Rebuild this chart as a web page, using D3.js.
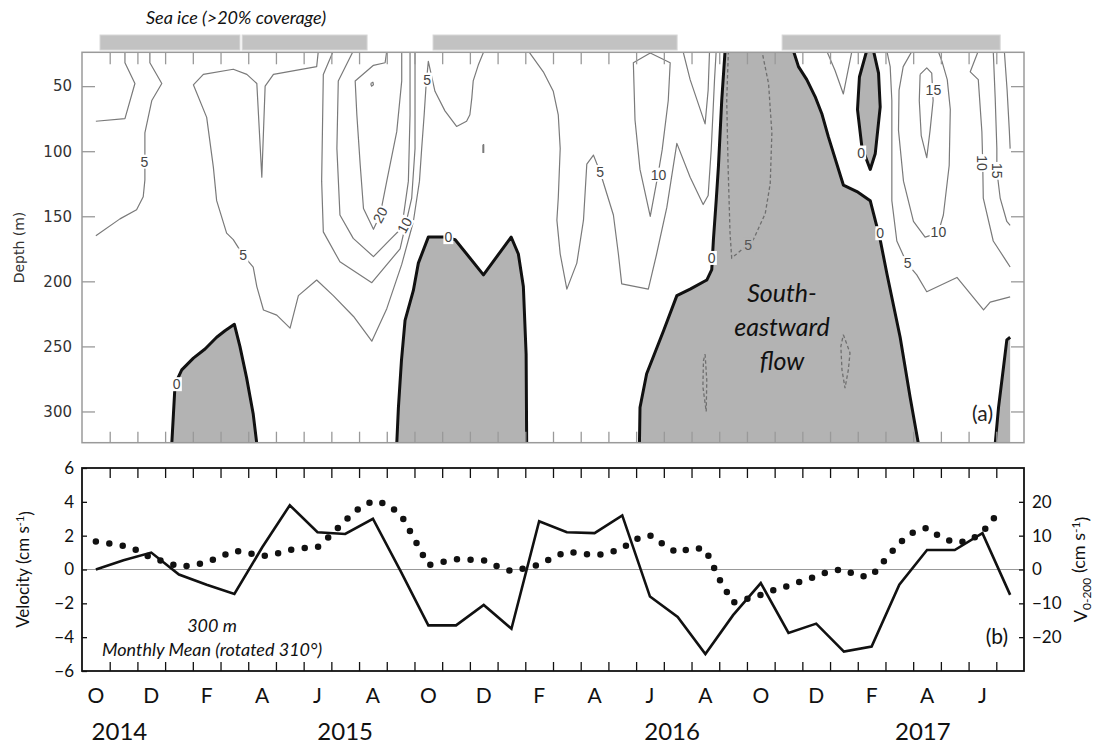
<!DOCTYPE html>
<html>
<head>
<meta charset="utf-8">
<script src="https://cdn.jsdelivr.net/npm/d3@7"></script>
<style>
body { margin: 0; background: #fff; }
svg { display: block; }
</style>
</head>
<body>
<div id="chart"></div>
<script>
// time axis is in months since 1 Oct 2014, depth in metres
var monthLetters = ["O", "N", "D", "J", "F", "M", "A", "M", "J", "J", "A", "S"];
var yearNames = ["2014", "2015", "2016", "2017"];
var yearPos = [1.35, 9.5, 21.3, 30.35];
var depthTicks = [50, 100, 150, 200, 250, 300];
var velTicks = [-6, -4, -2, 0, 2, 4, 6];
var v200Ticks = [-20, -10, 0, 10, 20];

// sea ice (>20% coverage) periods [start, end]
var seaIce = [[0.65, 5.70], [5.78, 10.29], [12.67, 21.48], [25.27, 33.14]];

// 300 m monthly mean velocity (cm/s), one value per month from Oct 2014
var vel300 = [0.0, 0.55, 1.0, -0.3, -0.9, -1.45, 1.3, 3.8, 2.2, 2.1, 3.0, -0.1,
    -3.3, -3.3, -2.1, -3.5, 2.85, 2.2, 2.15, 3.2, -1.6, -2.8, -5.0, -2.7,
    -0.8, -3.75, -3.2, -4.85, -4.55, -0.9, 1.15, 1.15, 2.15, -1.5];

// V 0-200 m (cm/s), half-month steps starting mid Oct 2014
var v0200 = [8.3, 7.7, 7.0, 5.7, 3.4, 2.3, 0.8, 1.2, 2.2, 3.8, 5.6, 4.9,
    3.9, 4.6, 5.8, 6.3, 6.6, 10.3, 14.5, 18.1, 20.3, 19.3, 16.3, 9.0,
    1.3, 2.2, 3.0, 2.9, 2.7, 0.9, -0.5, 0.4, 1.4, 3.5, 5.3, 4.8,
    4.2, 4.8, 6.3, 9.0, 10.1, 7.3, 4.9, 6.4, 6.0, -2.8, -9.8, -8.7,
    -7.5, -6.0, -4.8, -3.4, -2.0, -0.4, 0.0, -2.0, -1.9, 3.0, 7.8, 11.0,
    12.3, 9.5, 8.0, 8.3, 11.0, 16.0];

// regions of south-eastward (negative) flow, bounded by the 0 contour  [month, depth]
var negRegions = [
    [[3.24, 325], [3.30, 302], [3.36, 279], [3.60, 268], [4.02, 259], [4.44, 252], [4.86, 243], [5.16, 238],
        [5.50, 233], [5.70, 250], [5.94, 274], [6.18, 302], [6.31, 325]],
    [[11.36, 325], [11.42, 297], [11.53, 261], [11.66, 230], [11.96, 207], [12.14, 186], [12.50, 166], [13.10, 166],
        [13.47, 168], [14.49, 195], [15.49, 166], [15.75, 179], [15.93, 204], [16.03, 256], [16.05, 325]],
    [[20.12, 325], [20.14, 297], [20.38, 271], [20.99, 238], [21.47, 211], [21.95, 206], [22.55, 199], [22.73, 191],
        [22.79, 168], [22.89, 138], [22.97, 112], [23.09, 61], [23.21, 23], [25.68, 23], [25.86, 35], [26.16, 45],
        [26.46, 58], [26.70, 71], [26.94, 89], [27.48, 126], [27.97, 131], [28.45, 138], [28.57, 148], [28.81, 168],
        [29.05, 194], [29.53, 243], [29.89, 289], [30.19, 325]],
    [[28.32, 23], [28.06, 43], [27.99, 68], [28.15, 97], [28.45, 114], [28.63, 102], [28.81, 66], [28.75, 40], [28.57, 23]],
    [[32.96, 325], [33.08, 297], [33.26, 266], [33.38, 245], [33.5, 243], [33.5, 325]]
];

// -5 contours (dashed)
var negLines = [
    [[23.33, 23], [23.27, 61], [23.32, 112], [23.39, 163], [23.45, 182], [23.63, 179], [24.23, 168], [24.66, 148],
        [24.84, 125], [24.90, 86], [24.78, 48], [24.54, 23]],
    [[22.49, 256], [22.55, 276], [22.53, 300], [22.41, 281], [22.43, 261], [22.49, 256]],
    [[27.48, 241], [27.72, 255], [27.66, 268], [27.54, 282], [27.43, 268], [27.39, 250], [27.48, 241]]
];

// positive contours (5, 10, 15, 20)
var posLines = [
    [[0.5, 77], [1.55, 75], [1.91, 48], [1.55, 32], [1.55, 23]],
    [[2.45, 23], [2.45, 32], [2.88, 48], [2.52, 61], [2.27, 86], [2.27, 104], [2.27, 122], [2.21, 135], [1.97, 145],
        [1.37, 152], [0.5, 165]],
    [[8.53, 23], [8.47, 35], [6.91, 41], [6.61, 50], [6.49, 120], [6.31, 48], [5.95, 41], [5.46, 37], [4.38, 41],
        [4.02, 49], [4.50, 74], [4.74, 112], [4.86, 138], [5.22, 163], [5.46, 168], [5.82, 180], [6.18, 189],
        [6.31, 204], [6.55, 222], [7.03, 226], [7.51, 236], [7.81, 211], [8.47, 199], [9.07, 211], [9.80, 227],
        [10.46, 246], [11.00, 221], [11.54, 187], [11.96, 154], [12.18, 123], [12.26, 98], [12.35, 72], [12.42, 49],
        [12.50, 31], [12.74, 54], [13.10, 69], [13.52, 81], [13.88, 77], [14.00, 72], [14.07, 59], [14.12, 46],
        [14.30, 34], [14.51, 23]],
    [[11.00, 23], [10.94, 32], [10.52, 34], [9.86, 46], [9.92, 72], [10.04, 110], [10.16, 144], [10.52, 160],
        [10.76, 149], [11.00, 123], [11.36, 85], [11.54, 46], [11.54, 23]],
    [[9.79, 23], [9.25, 46], [9.20, 98], [9.31, 149], [9.79, 167], [10.52, 181], [11.12, 168], [11.54, 159],
        [11.78, 123], [11.84, 72], [11.84, 23]],
    [[9.07, 23], [8.71, 41], [8.65, 123], [8.71, 162], [9.31, 185], [10.46, 201], [11.48, 175], [11.90, 136],
        [12.02, 98], [12.02, 23]],
    [[10.42, 48], [10.50, 47], [10.52, 49], [10.45, 50], [10.42, 48]],
    [[14.47, 95], [14.50, 95], [14.50, 101], [14.47, 101], [14.47, 95]],
    [[16.11, 23], [16.65, 39], [17.01, 54], [17.19, 72], [17.26, 98], [17.19, 136], [17.14, 153], [17.26, 179],
        [17.50, 206], [17.86, 186], [18.10, 153], [18.22, 110], [18.46, 103], [18.70, 116], [19.18, 149],
        [19.36, 179], [19.48, 202], [20.44, 206], [20.74, 179], [21.11, 143], [21.47, 94], [21.95, 120],
        [22.42, 141], [22.60, 134], [22.71, 99], [22.78, 68], [22.83, 45], [22.89, 23]],
    [[20.51, 24.5], [21.23, 32], [21.16, 61], [20.94, 99], [20.79, 118], [20.51, 150], [20.14, 114], [19.96, 76],
        [19.90, 32], [20.51, 24.5]],
    [[21.69, 23], [21.95, 45], [22.49, 79], [22.60, 53], [22.65, 23]],
    [[26.88, 23], [27.18, 38], [27.48, 56], [27.62, 41], [27.79, 23]],
    [[29.05, 23], [29.17, 35], [29.23, 61], [29.23, 138], [29.41, 169], [29.77, 186], [30.13, 195], [30.49, 208],
        [31.58, 197], [32.54, 222], [32.78, 216], [33.5, 212]],
    [[29.96, 23], [29.64, 35], [29.49, 53], [29.47, 84], [29.65, 123], [30.01, 154], [30.43, 166], [30.90, 163],
        [31.09, 149], [31.30, 111], [31.34, 68], [31.23, 45], [31.04, 31], [30.90, 23]],
    [[30.25, 41], [30.49, 36], [30.67, 40], [30.72, 61], [30.61, 84], [30.49, 105], [30.29, 88], [30.22, 61], [30.25, 41]],
    [[32.35, 23], [32.06, 39], [32.35, 45], [32.48, 85], [32.51, 109], [32.53, 136], [32.89, 169], [33.38, 185], [33.5, 189]],
    [[32.89, 23], [32.96, 59], [33.02, 98], [33.02, 115], [33.14, 136], [33.38, 154], [33.5, 157]],
    [[33.29, 23], [33.39, 53], [33.47, 84], [33.5, 98]]
];

// contour labels: text, month, depth, angle, inside grey area
var contourLabels = [
    {t: "5", m: 2.25, d: 108, r: 0}, {t: "5", m: 5.82, d: 180, r: 0}, {t: "0", m: 3.42, d: 279, r: 0},
    {t: "20", m: 10.76, d: 149, r: -62}, {t: "10", m: 11.64, d: 157, r: -62}, {t: "5", m: 12.46, d: 45, r: 0},
    {t: "0", m: 13.22, d: 166, r: 0}, {t: "5", m: 18.70, d: 116, r: 0}, {t: "10", m: 20.81, d: 118, r: 0},
    {t: "0", m: 22.73, d: 182, r: 0}, {t: "5", m: 24.04, d: 172, r: 0, grey: true}, {t: "0", m: 28.12, d: 101, r: 0},
    {t: "0", m: 28.81, d: 163, r: 0}, {t: "15", m: 30.73, d: 53, r: 0}, {t: "10", m: 30.91, d: 162, r: 0},
    {t: "5", m: 29.80, d: 186, r: 0}, {t: "10", m: 32.50, d: 109, r: 90}, {t: "15", m: 33.02, d: 115, r: 90}
];

var W = 1098, H = 747;
var svg = d3.select("#chart").append("svg").attr("width", W).attr("height", H);

var x = d3.scaleLinear().domain([0, 34]).range([82, 1024]);
var yDepth = d3.scaleLinear().domain([24, 324]).range([52.3, 442.7]);
var yVel = d3.scaleLinear().domain([-6, 6]).range([671, 468]);
var yV = d3.scaleLinear().domain([-30, 30]).range([671, 468]);

var GREY = "#b3b3b3";
var cline = d3.line().x(function (p) { return x(p[0]); }).y(function (p) { return yDepth(p[1]); });

//segments running along the plot/data edge get no black outline
function onEdge(p, q) {
    return (p[1] <= 24 && q[1] <= 24) || (p[1] >= 324 && q[1] >= 324) || (p[0] >= 33.5 && q[0] >= 33.5);
}
function splitOutline(pts) {
    var segs = [], cur = [pts[0]];
    for (var i = 1; i < pts.length; i++) {
        if (onEdge(pts[i - 1], pts[i])) {
            if (cur.length > 1) segs.push(cur);
            cur = [pts[i]];
        } else {
            cur.push(pts[i]);
        }
    }
    if (cur.length > 1) segs.push(cur);
    return segs;
}

/******* panel (a): contours *******/
var pa = svg.append("g");
pa.append("clipPath").attr("id", "clipA").append("rect")
    .attr("x", x(0)).attr("y", yDepth(24)).attr("width", x(34) - x(0)).attr("height", yDepth(324) - yDepth(24));
var plot = pa.append("g").attr("clip-path", "url(#clipA)");

plot.selectAll("path.neg").data(negRegions).enter().append("path")
    .attr("class", "neg")
    .attr("d", function (r) { return cline(r) + "Z"; })
    .attr("fill", GREY);

plot.selectAll("path.dash").data(negLines).enter().append("path")
    .attr("class", "dash")
    .attr("d", cline)
    .attr("fill", "none").attr("stroke", "#6f6f6f").attr("stroke-width", 1.3).attr("stroke-dasharray", "3.5,2.5");

plot.selectAll("path.pos").data(posLines).enter().append("path")
    .attr("class", "pos")
    .attr("d", cline)
    .attr("fill", "none").attr("stroke", "#7a7a7a").attr("stroke-width", 1.2).attr("stroke-linejoin", "round");

var zeroSegs = [];
negRegions.forEach(function (r) { zeroSegs = zeroSegs.concat(splitOutline(r)); });
plot.selectAll("path.zero").data(zeroSegs).enter().append("path")
    .attr("class", "zero")
    .attr("d", cline)
    .attr("fill", "none").attr("stroke", "#111").attr("stroke-width", 3).attr("stroke-linejoin", "round");

contourLabels.forEach(function (l) {
    var g = plot.append("g")
        .attr("transform", "translate(" + x(l.m) + "," + yDepth(l.d) + ") rotate(" + l.r + ")");
    var t = g.append("text")
        .attr("text-anchor", "middle").attr("dy", "0.36em")
        .style("font-family", "'Liberation Sans', Arial, sans-serif").style("font-size", "14px")
        .attr("fill", l.grey ? "#555" : "#444")
        .text(l.t);
    var b = t.node().getBBox();
    g.insert("rect", "text")
        .attr("x", b.x - 1).attr("y", b.y + 1).attr("width", b.width + 2).attr("height", b.height - 2)
        .attr("fill", l.grey ? GREY : "#fff");
});

// frame
pa.append("rect")
    .attr("x", x(0)).attr("y", yDepth(24)).attr("width", x(34) - x(0)).attr("height", yDepth(324) - yDepth(24))
    .attr("fill", "none").attr("stroke", "#9a9a9a").attr("stroke-width", 1.5);

function styleAxis(g, color, font, size) {
    g.select(".domain").remove();
    g.selectAll(".tick line").attr("stroke", color).attr("stroke-width", 1.3);
    g.selectAll(".tick text").attr("fill", color === "#111" ? "#111" : "#333")
        .style("font-family", font).style("font-size", size);
}

var monthBounds = d3.range(1, 34);
pa.append("g").attr("transform", "translate(0," + yDepth(24) + ")")
    .call(d3.axisTop(x).tickValues(monthBounds).tickSize(-12).tickFormat(""))
    .call(styleAxis, "#999");
pa.append("g").attr("transform", "translate(0," + yDepth(324) + ")")
    .call(d3.axisBottom(x).tickValues(monthBounds).tickSize(-11).tickFormat(""))
    .call(styleAxis, "#999");
pa.append("g").attr("transform", "translate(" + x(0) + ",0)")
    .call(d3.axisLeft(yDepth).tickValues(depthTicks).tickSize(-13).tickPadding(10))
    .call(styleAxis, "#999", "'DejaVu Sans', sans-serif", "15px");
pa.append("g").attr("transform", "translate(" + x(34) + ",0)")
    .call(d3.axisRight(yDepth).tickValues(depthTicks).tickSize(-13).tickFormat(""))
    .call(styleAxis, "#999");

pa.append("text")
    .attr("transform", "translate(24," + (yDepth(24) + yDepth(324)) / 2 + ") rotate(-90)")
    .attr("text-anchor", "middle")
    .style("font-family", "'DejaVu Sans', sans-serif").style("font-size", "14px").attr("fill", "#333")
    .text("Depth (m)");

pa.append("text").attr("x", 993).attr("y", 421).attr("text-anchor", "end")
    .style("font-family", "Lato, sans-serif").style("font-size", "21px").attr("fill", "#222")
    .text("(a)");

var flow = pa.append("text").attr("text-anchor", "middle")
    .style("font-family", "Lato, sans-serif").style("font-size", "25px").style("font-style", "italic")
    .attr("fill", "#111");
["South-", "eastward", "flow"].forEach(function (s, i) {
    flow.append("tspan").attr("x", 782).attr("y", 302 + i * 34).text(s);
});

// sea ice bars
pa.selectAll("rect.ice").data(seaIce).enter().append("rect")
    .attr("class", "ice")
    .attr("x", function (d) { return x(d[0]); })
    .attr("width", function (d) { return x(d[1]) - x(d[0]); })
    .attr("y", 35).attr("height", 15)
    .attr("fill", "#c2c2c2").attr("stroke", "#d8d8d8").attr("stroke-width", 1);
pa.append("text").attr("x", 236).attr("y", 24).attr("text-anchor", "middle")
    .style("font-family", "Lato, sans-serif").style("font-size", "18px").style("font-style", "italic")
    .attr("fill", "#111")
    .text("Sea ice (>20% coverage)");

/******* panel (b): velocity *******/
var pb = svg.append("g");

pb.append("line")
    .attr("x1", x(0)).attr("x2", x(34)).attr("y1", yVel(0)).attr("y2", yVel(0))
    .attr("stroke", "#999").attr("stroke-width", 1);

pb.append("g").attr("transform", "translate(0," + yVel(6) + ")")
    .call(d3.axisTop(x).tickValues(monthBounds).tickSize(-10).tickFormat(""))
    .call(styleAxis, "#111");
pb.append("g").attr("transform", "translate(0," + yVel(-6) + ")")
    .call(d3.axisBottom(x).tickValues(monthBounds).tickSize(-9).tickFormat(""))
    .call(styleAxis, "#111");
pb.append("g").attr("transform", "translate(" + x(0) + ",0)")
    .call(d3.axisLeft(yVel).tickValues(velTicks).tickSize(-5).tickPadding(8))
    .call(styleAxis, "#111", "Lato, sans-serif", "17px");
pb.append("g").attr("transform", "translate(" + x(34) + ",0)")
    .call(d3.axisRight(yV).tickValues(v200Ticks).tickSize(-5).tickPadding(8))
    .call(styleAxis, "#111", "Lato, sans-serif", "17px");

pb.append("rect")
    .attr("x", x(0)).attr("y", yVel(6)).attr("width", x(34) - x(0)).attr("height", yVel(-6) - yVel(6))
    .attr("fill", "none").attr("stroke", "#111").attr("stroke-width", 1.8);

var solidLine = d3.line()
    .x(function (v, i) { return x(i + 0.5); })
    .y(function (v) { return yVel(v); });
pb.append("path").datum(vel300)
    .attr("d", solidLine)
    .attr("fill", "none").attr("stroke", "#111").attr("stroke-width", 2.6).attr("stroke-linejoin", "miter");

var dotLine = d3.line()
    .x(function (v, i) { return x((i + 1) / 2); })
    .y(function (v) { return yV(v); });
pb.append("path").datum(v0200)
    .attr("d", dotLine)
    .attr("fill", "none").attr("stroke", "#111").attr("stroke-width", 6.5)
    .attr("stroke-linecap", "round").attr("stroke-dasharray", "0,13.6");

// month letters and years
pb.selectAll("text.mon").data(d3.range(0, 34, 2)).enter().append("text")
    .attr("class", "mon")
    .attr("x", function (i) { return x(i + 0.5); })
    .attr("y", 703).attr("text-anchor", "middle")
    .style("font-family", "Lato, sans-serif").style("font-size", "21px").attr("fill", "#111")
    .text(function (i) { return monthLetters[i % 12]; });
pb.selectAll("text.yr").data(yearNames).enter().append("text")
    .attr("class", "yr")
    .attr("x", function (d, i) { return x(yearPos[i]); })
    .attr("y", 740).attr("text-anchor", "middle")
    .style("font-family", "Lato, sans-serif").style("font-size", "24px").attr("fill", "#111")
    .text(function (d) { return d; });

var vl = pb.append("text")
    .attr("transform", "translate(29," + yVel(0) + ") rotate(-90)")
    .attr("text-anchor", "middle")
    .style("font-family", "Lato, sans-serif").style("font-size", "17px").attr("fill", "#111");
vl.append("tspan").text("Velocity (cm s");
vl.append("tspan").attr("dy", "-0.45em").style("font-size", "11px").text("-1");
vl.append("tspan").attr("dy", "0.45em").text(")");

var vr = pb.append("text")
    .attr("transform", "translate(1087," + yVel(0) + ") rotate(-90)")
    .attr("text-anchor", "middle")
    .style("font-family", "Lato, sans-serif").style("font-size", "18px").attr("fill", "#111");
vr.append("tspan").text("V");
vr.append("tspan").attr("dy", "0.35em").style("font-size", "12px").text("0-200");
vr.append("tspan").attr("dy", "-0.35em").text(" (cm s");
vr.append("tspan").attr("dy", "-0.45em").style("font-size", "12px").text("-1");
vr.append("tspan").attr("dy", "0.45em").text(")");

pb.append("text").attr("x", 212).attr("y", 632).attr("text-anchor", "middle")
    .style("font-family", "Lato, sans-serif").style("font-size", "18px").style("font-style", "italic")
    .attr("fill", "#111").text("300 m");
pb.append("text").attr("x", 212).attr("y", 656).attr("text-anchor", "middle")
    .style("font-family", "Lato, sans-serif").style("font-size", "18px").style("font-style", "italic")
    .attr("fill", "#111").text("Monthly Mean (rotated 310°)");

pb.append("text").attr("x", 1008).attr("y", 644).attr("text-anchor", "end")
    .style("font-family", "Lato, sans-serif").style("font-size", "21px").attr("fill", "#111")
    .text("(b)");
</script>
</body>
</html>
